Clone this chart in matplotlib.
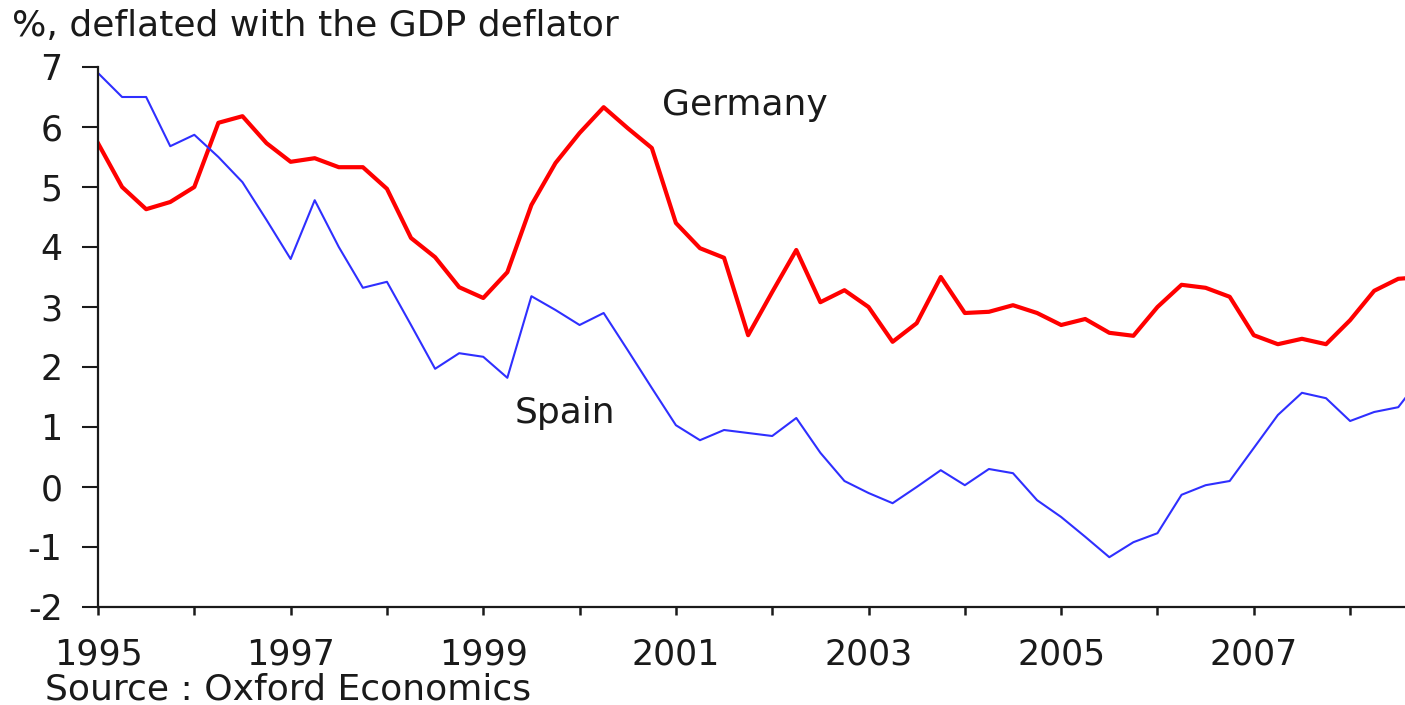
import numpy as np
import matplotlib
matplotlib.use("Agg")
import matplotlib.pyplot as plt

# quarterly values, 1995Q1 .. 2008Q4
start_year = 1995
germany = [5.73, 5.0, 4.63, 4.75,
           5.0, 6.07, 6.18, 5.73,
           5.42, 5.48, 5.33, 5.33,
           4.97, 4.15, 3.83, 3.33,
           3.15, 3.58, 4.7, 5.4,
           5.9, 6.33, 5.98, 5.65,
           4.4, 3.98, 3.82, 2.53,
           3.25, 3.95, 3.08, 3.28,
           3.0, 2.42, 2.73, 3.5,
           2.9, 2.92, 3.03, 2.9,
           2.7, 2.8, 2.57, 2.52,
           3.0, 3.37, 3.32, 3.17,
           2.53, 2.38, 2.47, 2.38,
           2.78, 3.27, 3.47, 3.5]
spain = [6.9, 6.5, 6.5, 5.68,
         5.87, 5.5, 5.08, 4.45,
         3.8, 4.78, 4.0, 3.32,
         3.42, 2.7, 1.97, 2.23,
         2.17, 1.82, 3.18, 2.95,
         2.7, 2.9, 2.28, 1.65,
         1.03, 0.78, 0.95, 0.9,
         0.85, 1.15, 0.57, 0.1,
         -0.1, -0.27, 0.0, 0.28,
         0.03, 0.3, 0.23, -0.22,
         -0.5, -0.83, -1.17, -0.92,
         -0.77, -0.13, 0.03, 0.1,
         0.65, 1.2, 1.57, 1.48,
         1.1, 1.25, 1.33, 1.85]
year_ticks = list(range(1995, 2009))
year_labels = [str(y) if y % 2 == 1 else "" for y in year_ticks]
y_ticks = [-2, -1, 0, 1, 2, 3, 4, 5, 6, 7]

quarters = start_year + np.arange(len(germany)) / 4

plt.rcParams['font.family'] = ['DejaVu Sans']
plt.rcParams['axes.unicode_minus'] = False
fig = plt.figure(figsize=(14.05, 7.05), dpi=100)
ax = fig.add_axes([98 / 1405, 98 / 705, 1307 / 1405, 540 / 705])

ax.plot(quarters, germany, color='#ff0000', lw=3.0)
ax.plot(quarters, spain, color='#2f2fff', lw=1.5)

ax.set_xlim(1995, 2008.57)
ax.set_ylim(-2, 7)
ax.set_xticks(year_ticks)
ax.set_xticklabels(year_labels)
ax.set_yticks(y_ticks)

for s in ['top', 'right']:
    ax.spines[s].set_visible(False)
for s in ['left', 'bottom']:
    ax.spines[s].set_linewidth(1.6)
    ax.spines[s].set_color('#1a1a1a')

ax.tick_params(axis='y', length=11.5, width=1.5, pad=14, labelsize=25, colors='#1a1a1a')
ax.tick_params(axis='x', length=6, width=1.8, pad=16, labelsize=25, colors='#1a1a1a')

ax.text(2000.86, 6.2, 'Germany', fontsize=26, va='baseline', ha='left', color='#1a1a1a')
ax.text(1999.33, 1.07, 'Spain', fontsize=26, va='baseline', ha='left', color='#1a1a1a')

fig.text(12 / 1405, 1 - 36 / 705, '%, deflated with the GDP deflator',
         fontsize=26, va='baseline', ha='left', color='#1a1a1a')
fig.text(45 / 1405, 1 - 699 / 705, 'Source : Oxford Economics',
         fontsize=26, va='baseline', ha='left', color='#1a1a1a')

fig.savefig('out.png', dpi=100, facecolor='white')
